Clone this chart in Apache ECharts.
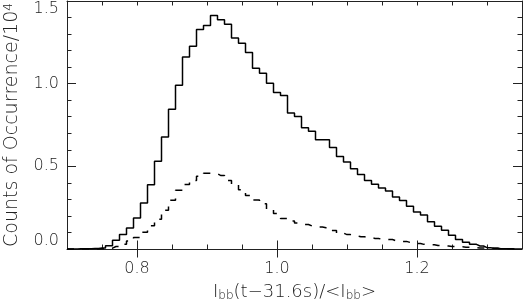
<!DOCTYPE html>
<html>
<head>
<meta charset="utf-8">
<script src="https://cdn.jsdelivr.net/npm/echarts@6/dist/echarts.min.js"></script>
<style>
  html, body { margin: 0; padding: 0; background: #fff; }
  #main { width: 524px; height: 302px; }
</style>
</head>
<body>
<div id="main"></div>
<script>
// bin centres of the histogram (I_bb ratio)
const binCenters = [
  0.70, 0.71, 0.72, 0.73, 0.74, 0.75, 0.76, 0.77, 0.78, 0.79,
  0.80, 0.81, 0.82, 0.83, 0.84, 0.85, 0.86, 0.87, 0.88, 0.89,
  0.90, 0.91, 0.92, 0.93, 0.94, 0.95, 0.96, 0.97, 0.98, 0.99,
  1.00, 1.01, 1.02, 1.03, 1.04, 1.05, 1.06, 1.07, 1.08, 1.09,
  1.10, 1.11, 1.12, 1.13, 1.14, 1.15, 1.16, 1.17, 1.18, 1.19,
  1.20, 1.21, 1.22, 1.23, 1.24, 1.25, 1.26, 1.27, 1.28, 1.29,
  1.30, 1.31, 1.32, 1.33, 1.34, 1.35
];

// counts / 10^4, solid histogram
const allCounts = [
  0.000, 0.000, 0.001, 0.002, 0.003, 0.006, 0.020, 0.053, 0.087, 0.127,
  0.187, 0.278, 0.389, 0.530, 0.677, 0.845, 0.990, 1.161, 1.227, 1.328,
  1.352, 1.413, 1.387, 1.359, 1.276, 1.245, 1.189, 1.093, 1.063, 1.002,
  0.946, 0.929, 0.822, 0.802, 0.733, 0.712, 0.661, 0.661, 0.614, 0.560,
  0.526, 0.486, 0.450, 0.415, 0.391, 0.369, 0.351, 0.314, 0.294, 0.258,
  0.224, 0.206, 0.165, 0.137, 0.113, 0.083, 0.057, 0.041, 0.028, 0.018,
  0.008, 0.004, 0.002, 0.001, 0.000, 0.000
];

// counts / 10^4, dashed histogram
const subsetCounts = [
  0.000, 0.000, 0.000, 0.000, 0.000, 0.001, 0.005, 0.015, 0.028, 0.048,
  0.069, 0.101, 0.140, 0.180, 0.235, 0.295, 0.355, 0.390, 0.415, 0.440,
  0.458, 0.455, 0.444, 0.415, 0.390, 0.359, 0.323, 0.296, 0.274, 0.242,
  0.214, 0.184, 0.170, 0.157, 0.148, 0.139, 0.133, 0.128, 0.112, 0.096,
  0.087, 0.079, 0.074, 0.069, 0.064, 0.059, 0.057, 0.050, 0.046, 0.040,
  0.033, 0.028, 0.026, 0.021, 0.018, 0.015, 0.013, 0.011, 0.008, 0.006,
  0.005, 0.004, 0.003, 0.001, 0.000, 0.000
];

const xMajorTicks = [0.8, 1.0, 1.2];

const font = "DejaVu Sans";
const ink = "#222";

function minorX(position) {
  return {
    type: "value",
    position: position,
    min: 0.7,
    max: 1.35,
    interval: 0.05,
    axisLine: { show: true, onZero: false, lineStyle: { color: ink, width: 1 } },
    axisTick: { show: true, inside: true, length: 4.5, lineStyle: { color: ink } },
    axisLabel: { show: false },
    splitLine: { show: false },
  };
}

function majorX(position, withLabels) {
  return {
    type: "value",
    position: position,
    min: 0.7,
    max: 1.35,
    axisLine: { show: false },
    axisTick: {
      show: true,
      inside: true,
      length: 8.5,
      customValues: xMajorTicks,
      lineStyle: { color: ink },
    },
    axisLabel: {
      show: withLabels,
      customValues: xMajorTicks,
      formatter: (v) => v.toFixed(1),
      margin: 12,
      fontFamily: font,
      fontWeight: 200,
      fontSize: 16,
      color: ink,
    },
    splitLine: { show: false },
    name: withLabels ? "I{sub|bb}(t\u221231.6s)/<I{sub|bb}>" : "",
    nameLocation: "middle",
    nameGap: 33,
    nameTextStyle: {
      fontFamily: font,
      fontWeight: 200,
      fontSize: 18,
      color: ink,
      rich: {
        sub: {
          fontFamily: font,
          fontWeight: 200,
          fontSize: 12,
          color: ink,
          verticalAlign: "bottom",
          padding: [8, 0, 0, 0],
        },
      },
    },
  };
}

function yAxis(position, withLabels) {
  return {
    type: "value",
    position: position,
    min: 0,
    max: 1.5,
    interval: 0.5,
    axisLine: { show: true, onZero: false, lineStyle: { color: ink, width: 1 } },
    axisTick: { show: true, inside: true, length: 9, lineStyle: { color: ink } },
    minorTick: { show: true, splitNumber: 5, length: 4.5, lineStyle: { color: ink } },
    splitLine: { show: false },
    axisLabel: {
      show: withLabels,
      formatter: (v) => v.toFixed(1),
      margin: 8,
      fontFamily: font,
      fontWeight: 200,
      fontSize: 16,
      color: ink,
      verticalAlignMinLabel: "bottom",
      verticalAlignMaxLabel: "top",
    },
    name: withLabels ? "Counts of Occurrence/10{sup|4}" : "",
    nameLocation: "middle",
    nameGap: 45,
    nameTextStyle: {
      fontFamily: font,
      fontWeight: 200,
      fontSize: 19,
      color: ink,
      rich: {
        sup: {
          fontFamily: font,
          fontWeight: 200,
          fontSize: 12,
          color: ink,
          verticalAlign: "top",
        },
      },
    },
  };
}

const chart = echarts.init(document.getElementById("main"));

const option = {
  animation: false,
  backgroundColor: "#fff",
  grid: { left: 67, right: 2, top: 1, bottom: 53, outerBoundsMode: "none", containLabel: false },
  xAxis: [minorX("bottom"), majorX("bottom", true), minorX("top"), majorX("top", false)],
  yAxis: [yAxis("left", true), yAxis("right", false)],
  series: [
    {
      name: "all",
      type: "line",
      step: "middle",
      showSymbol: false,
      data: binCenters.map((x, i) => [x, allCounts[i]]),
      lineStyle: { color: "#000", width: 1.5 },
      z: 3,
    },
    {
      name: "subset",
      type: "line",
      step: "middle",
      showSymbol: false,
      data: binCenters.map((x, i) => [x, subsetCounts[i]]),
      lineStyle: { color: "#000", width: 1.5, type: [7, 8] },
      z: 3,
    },
  ],
};

chart.setOption(option);
</script>
</body>
</html>
